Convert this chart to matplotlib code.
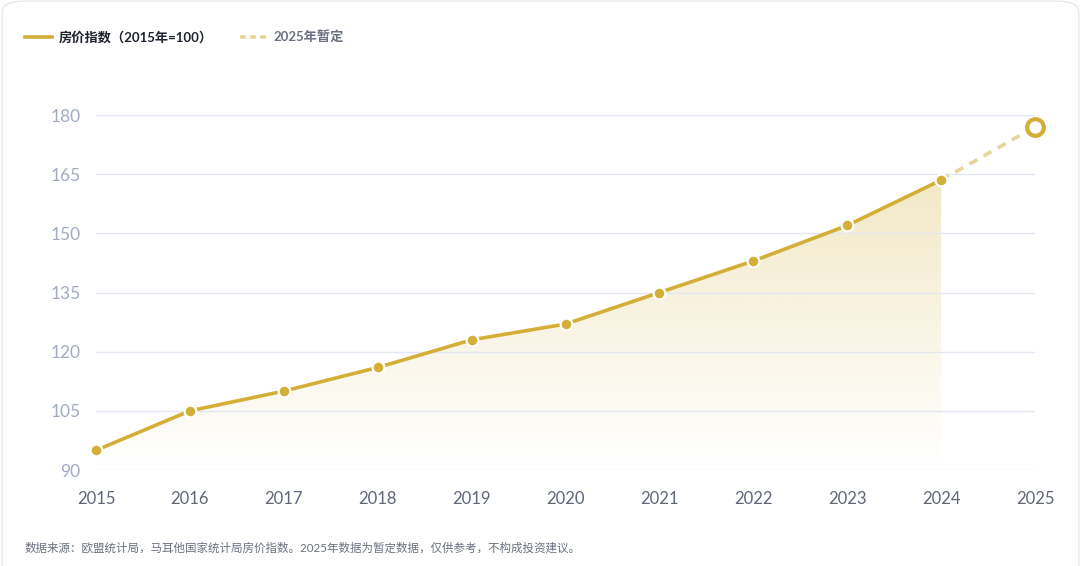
import matplotlib
matplotlib.use("Agg")
import matplotlib.pyplot as plt
import numpy as np
from matplotlib.lines import Line2D
from matplotlib.patches import Polygon, FancyBboxPatch

plt.rcParams['font.family'] = ['Lato', 'Noto Sans CJK SC', 'DejaVu Sans']

# 数据
years = [2015, 2016, 2017, 2018, 2019, 2020, 2021, 2022, 2023, 2024]
index_vals = [95, 105, 110, 116, 123, 127, 135, 143, 152, 163.5]
prov_years = [2024, 2025]
prov_vals = [163.5, 177]
yticks = [90, 105, 120, 135, 150, 165, 180]
xticks = [2015, 2016, 2017, 2018, 2019, 2020, 2021, 2022, 2023, 2024, 2025]

gold = '#D4AF37'
gold_light = '#E8D59A'

fig = plt.figure(figsize=(10.81, 5.66), dpi=100)
card = FancyBboxPatch((0.002, -0.05), 0.996, 1.048, boxstyle='round,pad=0,rounding_size=0.02',
                      transform=fig.transFigure, fc='white', ec='#e6e9f0', lw=1, zorder=-5)
fig.patches.append(card)
ax = fig.add_axes([0.0888, 0.1696, 0.8687, 0.6272])
ax.patch.set_alpha(0)
ax.set_xlim(2015, 2025)
ax.set_ylim(90, 180)

# 渐变填充
grad = np.linspace(0.28, 0.0, 256).reshape(-1, 1)
rgba = np.zeros((256, 1, 4))
rgba[..., 0] = 0xD4 / 255
rgba[..., 1] = 0xAF / 255
rgba[..., 2] = 0x37 / 255
rgba[..., 3] = grad
im = ax.imshow(rgba, extent=[2015, 2024, 90, max(index_vals)], aspect='auto', origin='upper', zorder=0.3)
poly = Polygon(list(zip(years, index_vals)) + [(2024, 90), (2015, 90)], closed=True, transform=ax.transData,
               fc='none', ec='none')
ax.add_patch(poly)
im.set_clip_path(poly)

ax.plot(years, index_vals, color=gold, lw=2.6, zorder=3, solid_capstyle='round')
ax.plot(prov_years, prov_vals, color=gold_light, lw=2.6, ls=(0, (2.5, 2)), zorder=3)
ax.plot(years, index_vals, 'o', ms=8.5, mfc=gold, mec='white', mew=1.6, zorder=4, clip_on=False)
ax.plot([prov_years[-1]], [prov_vals[-1]], 'o', ms=12, mfc='white', mec=gold, mew=3, zorder=5, clip_on=False)

ax.set_yticks(yticks)
ax.set_xticks(xticks)
ax.set_xticklabels([str(x) for x in xticks])
ax.set_axisbelow(True)
ax.grid(axis='y', color='#e3e7f1', lw=1)
for s in ax.spines.values():
    s.set_visible(False)
ax.tick_params(axis='y', length=0, pad=11, labelsize=12.5, labelcolor='#a3abc2')
ax.tick_params(axis='x', length=0, pad=15, labelsize=12, labelcolor='#5f6675')

# 图例
fig.add_artist(Line2D([0.023, 0.048], [0.935, 0.935], color=gold, lw=2.6, transform=fig.transFigure))
fig.text(0.054, 0.935, '房价指数（2015年=100）', fontsize=9.5, fontweight='bold', color='#1f2430', va='center')
fig.add_artist(Line2D([0.222, 0.246], [0.935, 0.935], color=gold_light, lw=2.6, ls=(0, (1.6, 1.2)),
                      transform=fig.transFigure))
fig.text(0.253, 0.935, '2025年暂定', fontsize=9.5, fontweight='bold', color='#6b7180', va='center')

# 数据来源
fig.text(0.023, 0.032, '数据来源：欧盟统计局，马耳他国家统计局房价指数。2025年数据为暂定数据，仅供参考，不构成投资建议。',
         fontsize=8.3, color='#6b7180', va='center')

fig.savefig('out.png', dpi=100)
